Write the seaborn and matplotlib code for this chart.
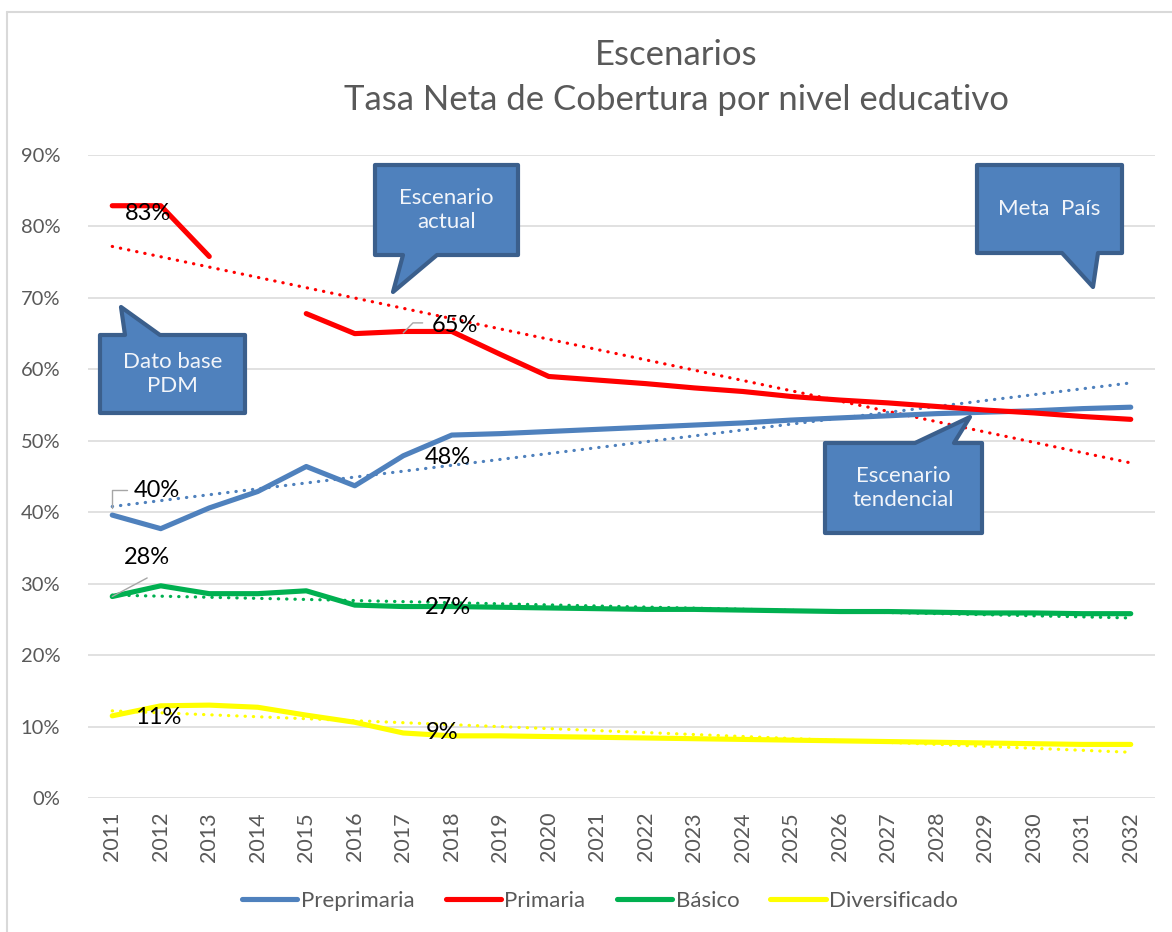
import numpy as np
import pandas as pd
import matplotlib
matplotlib.use("Agg")
import matplotlib.pyplot as plt
import seaborn as sns
from matplotlib.path import Path
from matplotlib.patches import PathPatch
from matplotlib.lines import Line2D
from matplotlib.ticker import PercentFormatter

# --- Data ---
years = [str(y) for y in range(2011, 2033)]
series_names = ["Preprimaria", "Primaria", "Básico", "Diversificado"]

preprimaria = [0.396, 0.377, 0.406, 0.429, 0.464, 0.437, 0.479, 0.508, 0.510, 0.513, 0.516,
               0.519, 0.522, 0.525, 0.529, 0.532, 0.535, 0.538, 0.540, 0.542, 0.545, 0.547]
primaria = [0.829, 0.829, 0.758, np.nan, 0.678, 0.650, 0.653, 0.653, 0.621, 0.590, 0.585,
            0.580, 0.574, 0.569, 0.562, 0.557, 0.553, 0.548, 0.543, 0.539, 0.534, 0.530]
basico = [0.282, 0.297, 0.286, 0.286, 0.290, 0.270, 0.268, 0.268, 0.267, 0.266, 0.265,
          0.264, 0.264, 0.263, 0.262, 0.261, 0.261, 0.260, 0.259, 0.259, 0.258, 0.258]
diversificado = [0.115, 0.129, 0.130, 0.127, 0.116, 0.106, 0.091, 0.087, 0.087, 0.086, 0.085,
                 0.084, 0.083, 0.082, 0.081, 0.080, 0.079, 0.078, 0.077, 0.076, 0.075, 0.075]

# linear trend lines (value at 2011 and at 2032)
trend_start = [0.408, 0.772, 0.284, 0.122]
trend_end = [0.581, 0.469, 0.252, 0.064]

colors = ["#4F81BD", "#FF0000", "#00B050", "#FFFF00"]

# --- Long-form table, split where a value is missing so the gap stays open ---
rows = []
for name, vals in zip(series_names, [preprimaria, primaria, basico, diversificado]):
    seg = 0
    for i, v in enumerate(vals):
        if np.isnan(v):
            seg += 1
            continue
        rows.append({"pos": i, "value": v, "serie": name, "seg": seg})
df = pd.DataFrame(rows)

trend_df = pd.DataFrame({
    "pos": [0, len(years) - 1] * len(series_names),
    "value": [v for s, e in zip(trend_start, trend_end) for v in (s, e)],
    "serie": [n for n in series_names for _ in range(2)],
})

# --- Style ---
sns.set_theme(style="white")
plt.rcParams["font.family"] = ["Lato", "DejaVu Sans"]
GREY = "#595959"

W, H = 1172, 932
fig = plt.figure(figsize=(W / 100, H / 100), dpi=100)
ax = fig.add_axes([88 / W, 1 - 798 / H, (1155 - 88) / W, (798 - 155) / H])

# trend lines (dotted)
for name, col in zip(series_names, colors):
    sub = trend_df[trend_df["serie"] == name]
    sns.lineplot(data=sub, x="pos", y="value", color=col, linewidth=2.3,
                 linestyle=(0, (0.1, 2.5)), dash_capstyle="round", ax=ax,
                 estimator=None, legend=False, zorder=3)

# main series
sns.lineplot(data=df, x="pos", y="value", hue="serie", units="seg", estimator=None,
             hue_order=series_names, palette=colors, linewidth=3.7,
             solid_capstyle="round", solid_joinstyle="round", ax=ax, legend=False, zorder=4)

ax.set_xlim(-0.5, len(years) - 0.5)
ax.set_ylim(0, 0.9)
ax.set_yticks(np.arange(0, 0.91, 0.1))
ax.yaxis.set_major_formatter(PercentFormatter(1.0, decimals=0))
ax.set_xticks(range(len(years)))
ax.set_xticklabels(years, rotation=90)
ax.tick_params(axis="y", length=0, colors=GREY, labelsize=14.5, pad=20)
ax.tick_params(axis="x", length=0, colors=GREY, labelsize=15.5, pad=10)
ax.set_xlabel("")
ax.set_ylabel("")
ax.grid(axis="y", color="#D9D9D9", linewidth=1.1)
ax.set_axisbelow(True)
for s in ax.spines.values():
    s.set_visible(False)

# --- data labels ---
labels = [("83%", 0.74, 0.818), ("65%", 7.07, 0.662), ("40%", 0.93, 0.430),
          ("48%", 6.92, 0.477), ("28%", 0.72, 0.337), ("27%", 6.92, 0.266),
          ("11%", 0.95, 0.113), ("9%", 6.80, 0.091)]
for txt, x, y in labels:
    ax.text(x, y, txt, ha="center", va="center", fontsize=17, color="black", zorder=6)

leader_kw = dict(color="#A6A6A6", linewidth=1.0, zorder=5)
ax.plot([0, 0, 0.3], [0.406, 0.431, 0.431], **leader_kw)
ax.plot([0, 0.72], [0.282, 0.308], **leader_kw)
ax.plot([6.0, 6.2, 6.4], [0.651, 0.665, 0.665], **leader_kw)

# --- callouts (pixel geometry) ---
def px(x, y):
    return (x / W, 1 - y / H)

def callout(x0, y0, x1, y1, tip, base, side, text):
    if side == "top":
        pts = [(x0, y0), (base[0], y0), tip, (base[1], y0), (x1, y0), (x1, y1), (x0, y1), (x0, y0)]
    else:
        pts = [(x0, y0), (x1, y0), (x1, y1), (base[1], y1), tip, (base[0], y1), (x0, y1), (x0, y0)]
    verts = [px(*p) for p in pts]
    codes = [Path.MOVETO] + [Path.LINETO] * (len(verts) - 2) + [Path.CLOSEPOLY]
    patch = PathPatch(Path(verts, codes), facecolor="#4F81BD", edgecolor="#3B5F8C",
                      linewidth=3, joinstyle="round", transform=fig.transFigure, zorder=10)
    fig.add_artist(patch)
    cx, cy = px((x0 + x1) / 2, (y0 + y1) / 2)
    fig.text(cx, cy, text, ha="center", va="center", color="#F2F5FA", fontsize=16,
             linespacing=1.2, zorder=11)

callout(100, 335, 245, 413, (121, 307), (125, 160), "top", "Dato base\nPDM")
callout(375, 165, 518, 255, (393, 292), (403, 437), "bottom", "Escenario\nactual")
callout(977, 165, 1122, 253, (1093, 287), (1062, 1098), "bottom", "Meta  País")
callout(825, 443, 982, 533, (970, 417), (915, 954), "top", "Escenario\ntendencial")

# --- title ---
fig.text(676 / W, 1 - 55 / H, "Escenarios", ha="center", va="center", fontsize=25, color=GREY)
fig.text(676 / W, 1 - 100 / H, "Tasa Neta de Cobertura por nivel educativo", ha="center",
         va="center", fontsize=25, color=GREY)

# --- legend ---
handles = [Line2D([0], [0], color=c, linewidth=3.7, solid_capstyle="round") for c in colors]
leg = fig.legend(handles, series_names, loc="center", bbox_to_anchor=(600 / W, 1 - 901 / H),
                 ncol=4, frameon=False, fontsize=16, handlelength=2.5, handletextpad=0.15,
                 columnspacing=1.4)
for t in leg.get_texts():
    t.set_color(GREY)

# chart border (left and top edges visible)
fig.add_artist(Line2D([7 / W, 7 / W], [0, 1 - 12 / H], color="#D9D9D9", linewidth=1.5,
                      transform=fig.transFigure))
fig.add_artist(Line2D([7 / W, 1], [1 - 12 / H, 1 - 12 / H], color="#D9D9D9", linewidth=1.5,
                      transform=fig.transFigure))

fig.savefig("out.png", dpi=100)
